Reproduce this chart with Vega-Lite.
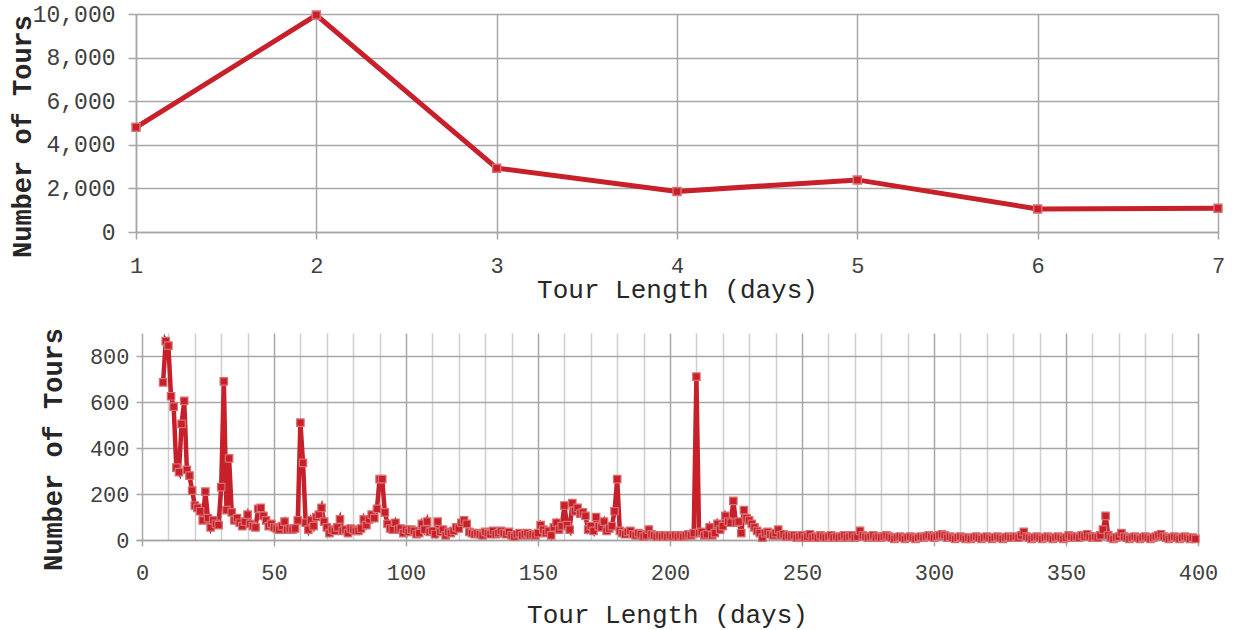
{
"$schema": "https://vega.github.io/schema/vega-lite/v6.json",
"background": "white",
"padding": {"left": 8, "top": 3, "right": 12, "bottom": 2},
"spacing": 25,
"config": {
  "view": {"stroke": null},
  "font": "Liberation Mono",
  "axis": {"labelFont": "Liberation Mono", "titleFont": "Liberation Mono", "labelColor": "#404040", "titleColor": "#262626", "gridColor": "#A6A6A6", "gridWidth": 1.5, "domainColor": "#A6A6A6", "domainWidth": 1.5, "tickColor": "#A6A6A6", "tickWidth": 1.5, "labelFontSize": 22, "titleFontSize": 26, "titleFontWeight": "normal", "labelFlush": false, "labelOverlap": false}
},
"vconcat": [
{
  "width": 1082, "height": 218,
  "data": {"values": [
    {"days": 1, "tours": 4800}, {"days": 2, "tours": 9950}, {"days": 3, "tours": 2930},
    {"days": 4, "tours": 1860}, {"days": 5, "tours": 2390}, {"days": 6, "tours": 1060}, {"days": 7, "tours": 1090}
  ]},
  "mark": {"type": "line", "color": "#C8202B", "strokeWidth": 5, "point": {"shape": "square", "size": 64, "filled": true, "fill": "#C8202B", "stroke": "#D87070", "strokeWidth": 1.5}},
  "encoding": {
    "x": {"field": "days", "type": "quantitative", "scale": {"domain": [1, 7], "nice": false, "zero": false},
      "axis": {"values": [1,2,3,4,5,6,7], "format": "d", "title": "Tour Length (days)", "tickSize": 7, "labelPadding": 16, "titlePadding": 0}},
    "y": {"field": "tours", "type": "quantitative", "scale": {"domain": [0, 10000], "nice": false},
      "axis": {"values": [0,2000,4000,6000,8000,10000], "format": ",.0f", "title": "Number of Tours", "titleFontWeight": "bold", "titleFontSize": 27, "labelFontSize": 23, "tickSize": 8, "labelPadding": 13, "titlePadding": -4, "titleY": 122}}
  }
},
{
  "width": 1062, "height": 207,
  "data": {"values": [
{"days":8,"tours":685},{"days":9,"tours":865},{"days":10,"tours":845},{"days":11,"tours":625},{"days":12,"tours":580},{"days":13,"tours":315},{"days":14,"tours":295},{"days":15,"tours":505},{"days":16,"tours":605},{"days":17,"tours":305},{"days":18,"tours":280},{"days":19,"tours":215},{"days":20,"tours":150},{"days":21,"tours":140},{"days":22,"tours":125},{"days":23,"tours":85},{"days":24,"tours":210},{"days":25,"tours":95},{"days":26,"tours":55},{"days":27,"tours":85},{"days":28,"tours":70},{"days":29,"tours":65},{"days":30,"tours":230},{"days":31,"tours":690},{"days":32,"tours":130},{"days":33,"tours":355},{"days":34,"tours":120},{"days":35,"tours":85},{"days":36,"tours":95},{"days":37,"tours":75},{"days":38,"tours":60},{"days":39,"tours":80},
{"days":40,"tours":110},{"days":41,"tours":70},{"days":42,"tours":60},{"days":43,"tours":55},{"days":44,"tours":135},{"days":45,"tours":140},{"days":46,"tours":105},{"days":47,"tours":85},{"days":48,"tours":60},{"days":49,"tours":70},{"days":50,"tours":55},{"days":51,"tours":50},{"days":52,"tours":45},{"days":53,"tours":60},{"days":54,"tours":80},{"days":55,"tours":45},{"days":56,"tours":50},{"days":57,"tours":45},{"days":58,"tours":50},{"days":59,"tours":85},{"days":60,"tours":510},{"days":61,"tours":335},{"days":62,"tours":75},{"days":63,"tours":45},{"days":64,"tours":85},{"days":65,"tours":60},{"days":66,"tours":100},{"days":67,"tours":110},{"days":68,"tours":140},{"days":69,"tours":80},
{"days":70,"tours":55},{"days":71,"tours":30},{"days":72,"tours":45},{"days":73,"tours":40},{"days":74,"tours":55},{"days":75,"tours":90},{"days":76,"tours":40},{"days":77,"tours":45},{"days":78,"tours":30},{"days":79,"tours":50},{"days":80,"tours":45},{"days":81,"tours":40},{"days":82,"tours":40},{"days":83,"tours":50},{"days":84,"tours":90},{"days":85,"tours":65},{"days":86,"tours":90},{"days":87,"tours":110},{"days":88,"tours":95},{"days":89,"tours":135},{"days":90,"tours":265},{"days":91,"tours":265},{"days":92,"tours":120},{"days":93,"tours":70},{"days":94,"tours":50},{"days":95,"tours":45},{"days":96,"tours":75},{"days":97,"tours":45},{"days":98,"tours":50},{"days":99,"tours":30},
{"days":100,"tours":45},{"days":101,"tours":35},{"days":102,"tours":45},{"days":103,"tours":40},{"days":104,"tours":25},{"days":105,"tours":30},{"days":106,"tours":70},{"days":107,"tours":45},{"days":108,"tours":80},{"days":109,"tours":35},{"days":110,"tours":40},{"days":111,"tours":25},{"days":112,"tours":80},{"days":113,"tours":35},{"days":114,"tours":45},{"days":115,"tours":20},{"days":116,"tours":35},{"days":117,"tours":30},{"days":118,"tours":40},{"days":119,"tours":55},{"days":120,"tours":50},{"days":121,"tours":75},{"days":122,"tours":85},{"days":123,"tours":70},{"days":124,"tours":35},{"days":125,"tours":30},{"days":126,"tours":25},{"days":127,"tours":30},{"days":128,"tours":25},{"days":129,"tours":20},
{"days":130,"tours":35},{"days":131,"tours":30},{"days":132,"tours":25},{"days":133,"tours":40},{"days":134,"tours":25},{"days":135,"tours":30},{"days":136,"tours":40},{"days":137,"tours":30},{"days":138,"tours":25},{"days":139,"tours":35},{"days":140,"tours":20},{"days":141,"tours":15},{"days":142,"tours":25},{"days":143,"tours":30},{"days":144,"tours":20},{"days":145,"tours":25},{"days":146,"tours":30},{"days":147,"tours":20},{"days":148,"tours":25},{"days":149,"tours":20},{"days":150,"tours":30},{"days":151,"tours":65},{"days":152,"tours":45},{"days":153,"tours":30},{"days":154,"tours":40},{"days":155,"tours":20},{"days":156,"tours":55},{"days":157,"tours":75},{"days":158,"tours":45},{"days":159,"tours":60},
{"days":160,"tours":150},{"days":161,"tours":65},{"days":162,"tours":45},{"days":163,"tours":160},{"days":164,"tours":125},{"days":165,"tours":140},{"days":166,"tours":115},{"days":167,"tours":120},{"days":168,"tours":105},{"days":169,"tours":45},{"days":170,"tours":60},{"days":171,"tours":40},{"days":172,"tours":100},{"days":173,"tours":60},{"days":174,"tours":55},{"days":175,"tours":80},{"days":176,"tours":40},{"days":177,"tours":50},{"days":178,"tours":60},{"days":179,"tours":125},{"days":180,"tours":265},{"days":181,"tours":40},{"days":182,"tours":30},{"days":183,"tours":25},{"days":184,"tours":35},{"days":185,"tours":40},{"days":186,"tours":25},{"days":187,"tours":20},{"days":188,"tours":30},{"days":189,"tours":25},
{"days":190,"tours":15},{"days":191,"tours":20},{"days":192,"tours":45},{"days":193,"tours":25},{"days":194,"tours":20},{"days":195,"tours":15},{"days":196,"tours":20},{"days":197,"tours":15},{"days":198,"tours":20},{"days":199,"tours":15},{"days":200,"tours":20},{"days":201,"tours":15},{"days":202,"tours":20},{"days":203,"tours":15},{"days":204,"tours":20},{"days":205,"tours":15},{"days":206,"tours":20},{"days":207,"tours":25},{"days":208,"tours":20},{"days":209,"tours":30},{"days":210,"tours":710},{"days":211,"tours":30},{"days":212,"tours":35},{"days":213,"tours":20},{"days":214,"tours":25},{"days":215,"tours":55},{"days":216,"tours":20},{"days":217,"tours":30},{"days":218,"tours":70},{"days":219,"tours":45},
{"days":220,"tours":60},{"days":221,"tours":105},{"days":222,"tours":80},{"days":223,"tours":75},{"days":224,"tours":170},{"days":225,"tours":75},{"days":226,"tours":80},{"days":227,"tours":30},{"days":228,"tours":130},{"days":229,"tours":95},{"days":230,"tours":85},{"days":231,"tours":70},{"days":232,"tours":55},{"days":233,"tours":40},{"days":234,"tours":30},{"days":235,"tours":10},{"days":236,"tours":30},{"days":237,"tours":35},{"days":238,"tours":25},{"days":239,"tours":20},{"days":240,"tours":30},{"days":241,"tours":45},{"days":242,"tours":20},{"days":243,"tours":25},{"days":244,"tours":15},{"days":245,"tours":20},{"days":246,"tours":15},{"days":247,"tours":20},{"days":248,"tours":10},{"days":249,"tours":15},
{"days":250,"tours":20},{"days":251,"tours":10},{"days":252,"tours":15},{"days":253,"tours":25},{"days":254,"tours":10},{"days":255,"tours":15},{"days":256,"tours":10},{"days":257,"tours":20},{"days":258,"tours":15},{"days":259,"tours":10},{"days":260,"tours":15},{"days":261,"tours":20},{"days":262,"tours":10},{"days":263,"tours":15},{"days":264,"tours":10},{"days":265,"tours":15},{"days":266,"tours":20},{"days":267,"tours":10},{"days":268,"tours":15},{"days":269,"tours":20},{"days":270,"tours":10},{"days":271,"tours":15},{"days":272,"tours":40},{"days":273,"tours":20},{"days":274,"tours":15},{"days":275,"tours":10},{"days":276,"tours":15},{"days":277,"tours":20},{"days":278,"tours":10},{"days":279,"tours":15},
{"days":280,"tours":10},{"days":281,"tours":15},{"days":282,"tours":20},{"days":283,"tours":15},{"days":284,"tours":10},{"days":285,"tours":5},{"days":286,"tours":10},{"days":287,"tours":15},{"days":288,"tours":10},{"days":289,"tours":5},{"days":290,"tours":10},{"days":291,"tours":15},{"days":292,"tours":10},{"days":293,"tours":5},{"days":294,"tours":10},{"days":295,"tours":15},{"days":296,"tours":10},{"days":297,"tours":15},{"days":298,"tours":20},{"days":299,"tours":15},{"days":300,"tours":10},{"days":301,"tours":15},{"days":302,"tours":20},{"days":303,"tours":25},{"days":304,"tours":20},{"days":305,"tours":10},{"days":306,"tours":15},{"days":307,"tours":10},{"days":308,"tours":5},{"days":309,"tours":10},
{"days":310,"tours":15},{"days":311,"tours":10},{"days":312,"tours":5},{"days":313,"tours":10},{"days":314,"tours":5},{"days":315,"tours":10},{"days":316,"tours":15},{"days":317,"tours":10},{"days":318,"tours":5},{"days":319,"tours":10},{"days":320,"tours":15},{"days":321,"tours":10},{"days":322,"tours":5},{"days":323,"tours":10},{"days":324,"tours":15},{"days":325,"tours":10},{"days":326,"tours":5},{"days":327,"tours":10},{"days":328,"tours":15},{"days":329,"tours":10},{"days":330,"tours":10},{"days":331,"tours":15},{"days":332,"tours":10},{"days":333,"tours":20},{"days":334,"tours":35},{"days":335,"tours":15},{"days":336,"tours":10},{"days":337,"tours":5},{"days":338,"tours":10},{"days":339,"tours":15},
{"days":340,"tours":10},{"days":341,"tours":5},{"days":342,"tours":10},{"days":343,"tours":15},{"days":344,"tours":10},{"days":345,"tours":5},{"days":346,"tours":10},{"days":347,"tours":15},{"days":348,"tours":10},{"days":349,"tours":5},{"days":350,"tours":10},{"days":351,"tours":20},{"days":352,"tours":15},{"days":353,"tours":10},{"days":354,"tours":15},{"days":355,"tours":10},{"days":356,"tours":20},{"days":357,"tours":15},{"days":358,"tours":25},{"days":359,"tours":15},{"days":360,"tours":10},{"days":361,"tours":15},{"days":362,"tours":10},{"days":363,"tours":20},{"days":364,"tours":45},{"days":365,"tours":105},{"days":366,"tours":20},{"days":367,"tours":10},{"days":368,"tours":5},{"days":369,"tours":10},
{"days":370,"tours":15},{"days":371,"tours":30},{"days":372,"tours":15},{"days":373,"tours":10},{"days":374,"tours":5},{"days":375,"tours":10},{"days":376,"tours":15},{"days":377,"tours":10},{"days":378,"tours":5},{"days":379,"tours":10},{"days":380,"tours":15},{"days":381,"tours":10},{"days":382,"tours":5},{"days":383,"tours":10},{"days":384,"tours":15},{"days":385,"tours":20},{"days":386,"tours":25},{"days":387,"tours":15},{"days":388,"tours":10},{"days":389,"tours":5},{"days":390,"tours":10},{"days":391,"tours":15},{"days":392,"tours":10},{"days":393,"tours":5},{"days":394,"tours":10},{"days":395,"tours":15},{"days":396,"tours":10},{"days":397,"tours":5},{"days":398,"tours":10},{"days":399,"tours":5}
  ]},
  "mark": {"type": "line", "color": "#C8202B", "strokeWidth": 4.5, "point": {"shape": "square", "size": 56, "filled": true, "fill": "#C8202B", "stroke": "#D87070", "strokeWidth": 1.2}},
  "encoding": {
    "x": {"field": "days", "type": "quantitative", "scale": {"domain": [-2.27, 400], "nice": false, "zero": false},
      "axis": {"values": [0,10,20,30,40,50,60,70,80,90,100,110,120,130,140,150,160,170,180,190,200,210,220,230,240,250,260,270,280,290,300,310,320,330,340,350,360,370,380,390,400],
        "labelExpr": "datum.value % 50 === 0 ? datum.label : ''",
        "gridColor": {"condition": {"test": "datum.value % 50 === 0", "value": "#A6A6A6"}, "value": "#CFCFCF"},
        "tickOpacity": {"condition": {"test": "datum.value % 50 === 0", "value": 1}, "value": 0},
        "tickSize": 6, "labelPadding": 16, "titlePadding": 18, "title": "Tour Length (days)"}},
    "y": {"field": "tours", "type": "quantitative", "scale": {"domain": [0, 900], "nice": false},
      "axis": {"values": [0,200,400,600,800], "title": "Number of Tours", "titleFontWeight": "bold", "titleFontSize": 27, "domain": false, "tickSize": 0, "labelPadding": 7, "titlePadding": 22, "titleY": 116}}
  }
}
]
}
